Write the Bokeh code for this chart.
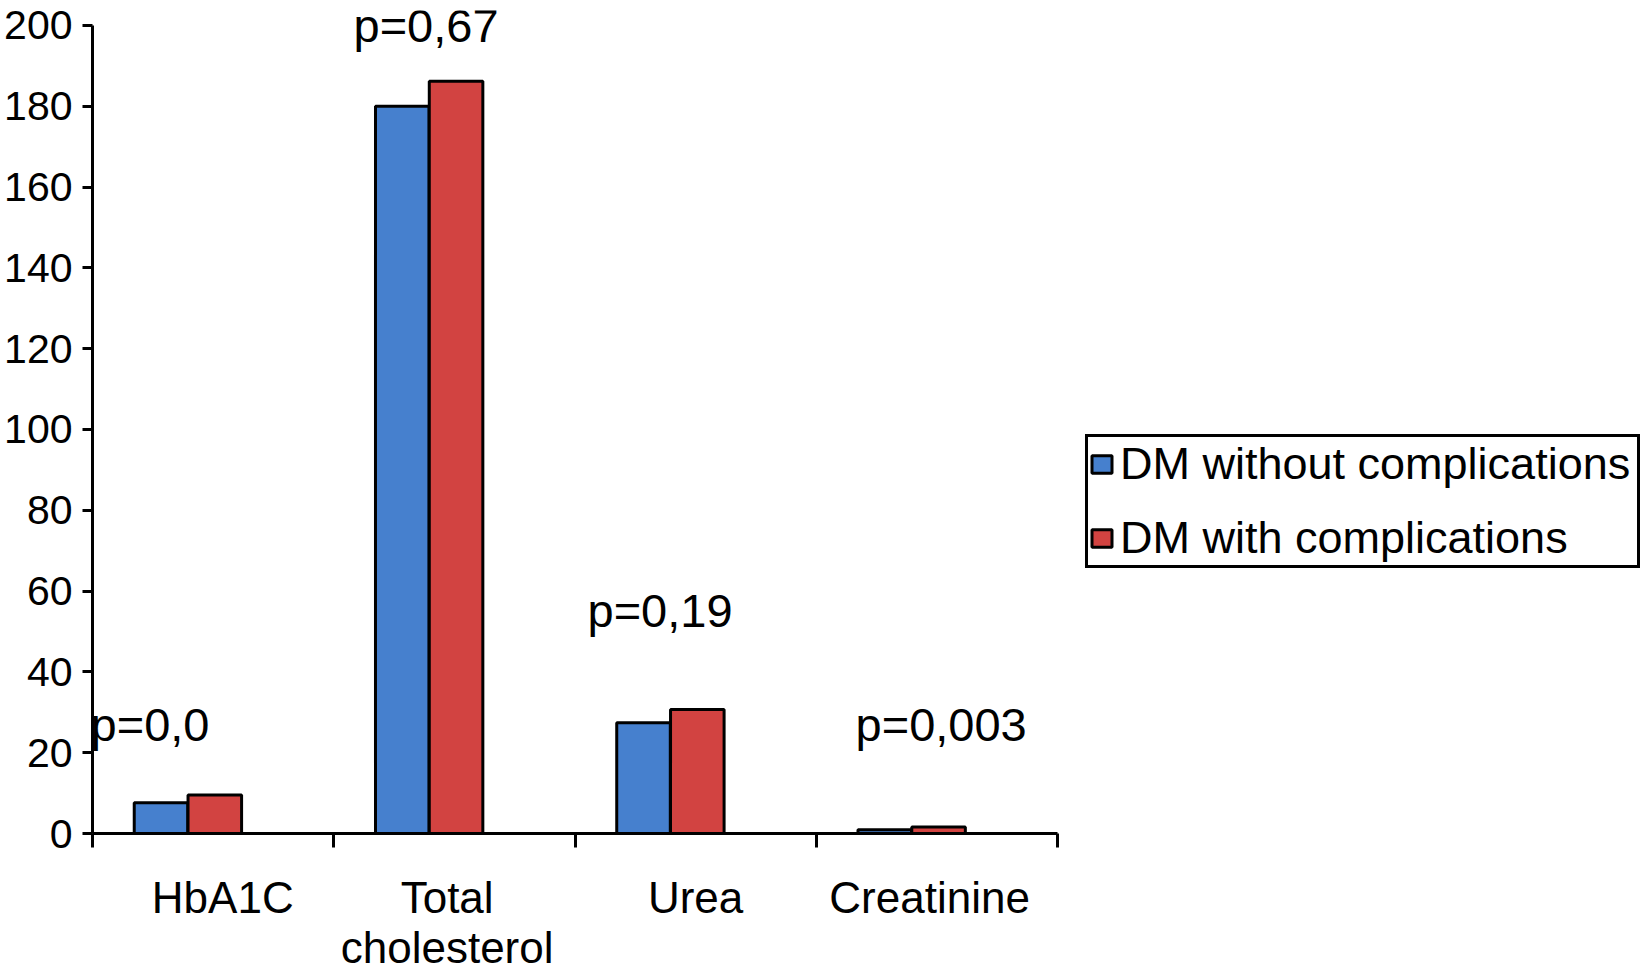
from bokeh.plotting import figure
from bokeh.models import (ColumnDataSource, Range1d, FixedTicker, LinearAxis,
                          Legend, LegendItem, LabelSet)
from bokeh.core.properties import value
from bokeh.transform import dodge
from bokeh.embed import file_html
from bokeh.resources import INLINE

# ---- data ----
categories = ["HbA1C", "Total\ncholesterol", "Urea", "Creatinine"]
dm_without = [7.6, 180.0, 27.4, 0.9]
dm_with = [9.5, 186.2, 30.7, 1.6]
series_names = ["DM without complications", "DM with complications"]
p_values = ["p=0,0", "p=0,67", "p=0,19", "p=0,003"]
p_label_x = [-0.008, 1.082, 2.052, 3.163]
p_label_y = [23.0, 195.8, 51.0, 23.0]
y_ticks = [0, 20, 40, 60, 80, 100, 120, 140, 160, 180, 200]
category_label_pos = [0.54, 1.47, 2.5, 3.47]

FONT = "Liberation Sans"
BLUE = "#4680CE"
RED = "#D24341"

idx = list(range(len(categories)))
src = ColumnDataSource(dict(x=idx, without=dm_without, withc=dm_with))

p = figure(frame_width=965, frame_height=823,
           x_range=Range1d(0, len(categories)),
           y_range=Range1d(0, 203.7), output_backend="svg", toolbar_location=None,
           x_axis_type=None, y_axis_type=None,
           min_border_left=92, min_border_right=583, min_border_top=10,
           min_border_bottom=0)
p.outline_line_color = None
p.background_fill_color = "white"
p.border_fill_color = "white"

# x axis: labels at category centres, boundary ticks drawn as minor ticks
xaxis = LinearAxis(
    ticker=FixedTicker(ticks=category_label_pos,
                       minor_ticks=list(range(len(categories) + 1))),
    major_label_overrides={pos: c for pos, c in zip(category_label_pos, categories)})
xaxis.axis_line_width = 3
xaxis.axis_line_color = "black"
xaxis.major_tick_out = 0
xaxis.major_tick_in = 0
xaxis.major_tick_line_color = None
xaxis.minor_tick_out = 14
xaxis.minor_tick_in = 0
xaxis.minor_tick_line_width = 3
xaxis.minor_tick_line_color = "black"
xaxis.major_label_text_font = FONT
xaxis.major_label_text_font_size = "44px"
xaxis.major_label_text_color = "black"
xaxis.major_label_text_line_height = 1.03
xaxis.major_label_standoff = 25
p.add_layout(xaxis, "below")

yaxis = LinearAxis(ticker=FixedTicker(ticks=y_ticks, minor_ticks=[]),
                   bounds=(0, 200))
yaxis.axis_line_width = 3
yaxis.axis_line_color = "black"
yaxis.major_tick_out = 10
yaxis.major_tick_in = 0
yaxis.major_tick_line_width = 3
yaxis.major_tick_line_color = "black"
yaxis.minor_tick_line_color = None
yaxis.major_label_text_font = FONT
yaxis.major_label_text_font_size = "41px"
yaxis.major_label_text_color = "black"
yaxis.major_label_standoff = 10
p.add_layout(yaxis, "left")

r1 = p.vbar(x=dodge("x", 0.284), top="without", width=0.222, source=src,
            fill_color=BLUE, line_color="black", line_width=3)
r2 = p.vbar(x=dodge("x", 0.507), top="withc", width=0.222, source=src,
            fill_color=RED, line_color="black", line_width=3)

psrc = ColumnDataSource(dict(x=p_label_x, y=p_label_y, text=p_values))
labels = LabelSet(x="x", y="y", text="text", source=psrc,
                  text_font=value(FONT), text_font_size=value("47px"),
                  text_color="black",
                  text_align="left", text_baseline="alphabetic")
p.add_layout(labels)

legend = Legend(items=[LegendItem(label=series_names[0], renderers=[r1]),
                       LegendItem(label=series_names[1], renderers=[r2])],
                location=(28, 265), orientation="vertical",
                padding=1, spacing=22, margin=0,
                glyph_width=25, glyph_height=22, label_standoff=6,
                label_width=516,
                label_text_font=FONT, label_text_font_size="45px",
                label_text_color="black",
                border_line_color="black", border_line_width=3,
                border_line_alpha=1.0,
                background_fill_color="white", background_fill_alpha=1)
p.add_layout(legend, "right")

open("out.html", "w").write(file_html(p, INLINE))
